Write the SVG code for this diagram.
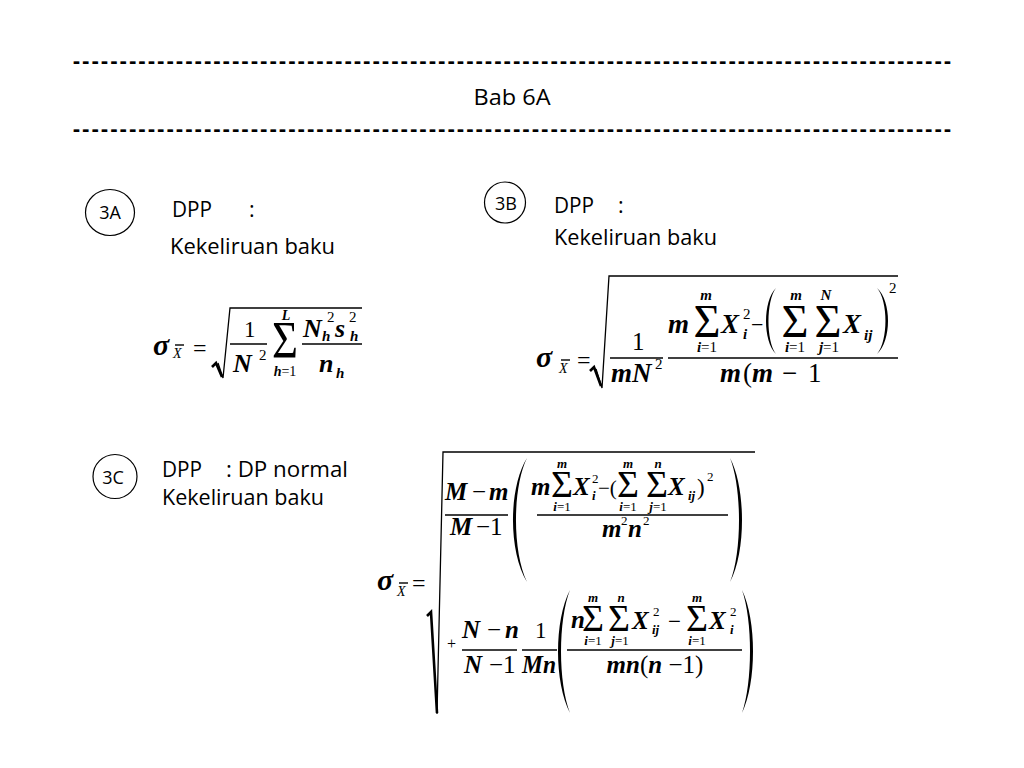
<svg xmlns="http://www.w3.org/2000/svg" width="1024" height="768" viewBox="0 0 1024 768">
<style>
.t{font-family:"Open Sans","Noto Sans","Liberation Sans",sans-serif;font-size:21.5px;fill:#000}
.d{font-family:"Open Sans","Noto Sans","Liberation Sans",sans-serif;font-size:21.5px;font-weight:bold;fill:#000}
.c{font-family:"Open Sans","Noto Sans","Liberation Sans",sans-serif;font-size:18px;fill:#000}
.bi{font-family:"Liberation Serif","Times New Roman",serif;font-weight:bold;font-style:italic;fill:#000}
.it{font-family:"Liberation Serif","Times New Roman",serif;font-style:italic;fill:#000}
.rm{font-family:"Liberation Serif","Times New Roman",serif;font-weight:normal;font-style:normal;fill:#000}
.m{text-anchor:middle}
.bar{stroke:#000;stroke-width:1.4;fill:none}
.rad{stroke:#000;stroke-width:1.3;fill:none;stroke-linejoin:miter}
.radk{stroke:#000;stroke-width:2.6;fill:none}
.par{fill:#000;stroke:none}
.ring{fill:#fff;stroke:#000;stroke-width:1.2}
</style>
<rect width="1024" height="768" fill="#fff"/>

<g id="header">
<text class="d" x="73" y="68" textLength="878" lengthAdjust="spacing">----------------------------------------------------------------------------------------------</text>
<text class="t m" x="512" y="105" textLength="77" lengthAdjust="spacingAndGlyphs">Bab 6A</text>
<text class="d" x="73" y="136" textLength="878" lengthAdjust="spacing">----------------------------------------------------------------------------------------------</text>
</g>

<g id="node-3A">
<ellipse class="ring" cx="110" cy="212.5" rx="24.5" ry="23"/>
<text class="c m" x="110" y="218.5">3A</text>
<text class="t" x="172" y="217" textLength="40" lengthAdjust="spacingAndGlyphs">DPP</text>
<text class="t" x="249" y="217">:</text>
<text class="t" x="170" y="254" textLength="165" lengthAdjust="spacingAndGlyphs">Kekeliruan baku</text>
</g>

<g id="node-3B">
<circle class="ring" cx="505" cy="202.5" r="20.5"/>
<text class="c m" x="506" y="209.5">3B</text>
<text class="t" x="554" y="213" textLength="40" lengthAdjust="spacingAndGlyphs">DPP</text>
<text class="t" x="618" y="213">:</text>
<text class="t" x="554" y="245" textLength="163" lengthAdjust="spacingAndGlyphs">Kekeliruan baku</text>
</g>

<g id="node-3C">
<circle class="ring" cx="115" cy="476.5" r="22"/>
<text class="c m" x="113" y="484">3C</text>
<text class="t" x="162" y="477" textLength="40" lengthAdjust="spacingAndGlyphs">DPP</text>
<text class="t" x="226" y="477" textLength="122" lengthAdjust="spacingAndGlyphs">: DP normal</text>
<text class="t" x="162" y="505" textLength="162" lengthAdjust="spacingAndGlyphs">Kekeliruan baku</text>
</g>

<g id="formula-3A">
<text class="bi" x="153" y="355" font-size="30">σ</text>
<text class="it" x="173" y="358" font-size="14">X</text>
<line class="bar" x1="175" y1="345" x2="184" y2="345" stroke-width="1"/>
<text class="rm" x="193" y="356" font-size="24">=</text>
<path class="rad" d="M218,363 L223,378 L230,308 L362,308"/>
<path class="radk" d="M212,367 L216,363 L222,377"/>
<text class="rm" x="244" y="337" font-size="23">1</text>
<line class="bar" x1="230" y1="344" x2="267" y2="344"/>
<text class="bi" x="233" y="372" font-size="26">N</text>
<text class="rm" x="259" y="360" font-size="15">2</text>
<text class="rm m" transform="translate(285,358) scale(1,1.2)" x="0" y="0" font-size="44" textLength="26" lengthAdjust="spacingAndGlyphs">Σ</text>
<text class="bi m" x="286" y="320" font-size="14">L</text>
<text class="m" x="285" y="376" font-size="14"><tspan class="bi">h</tspan><tspan class="rm">=1</tspan></text>
<text class="bi" x="303" y="337" font-size="26">N</text>
<text class="bi" x="322" y="341" font-size="15">h</text>
<text class="rm" x="327" y="322" font-size="15">2</text>
<text class="bi" x="335" y="337" font-size="26">s</text>
<text class="bi" x="350" y="341" font-size="15">h</text>
<text class="rm" x="349" y="322" font-size="15">2</text>
<line class="bar" x1="302" y1="344" x2="362" y2="344"/>
<text class="bi" x="319" y="372" font-size="26">n</text>
<text class="bi" x="336" y="378" font-size="15">h</text>
</g>

<g id="formula-3B">
<text class="bi" x="536" y="367" font-size="30">σ</text>
<text class="it" x="559" y="373" font-size="14">X</text>
<line class="bar" x1="561" y1="360" x2="570" y2="360" stroke-width="1"/>
<text class="rm" x="577" y="368" font-size="24">=</text>
<path class="rad" d="M596,369 L602,388 L609,276 L898,276"/>
<path class="radk" d="M590,371 L594,367 L601,386"/>
<text class="rm" x="632" y="350" font-size="25">1</text>
<line class="bar" x1="610" y1="358" x2="663" y2="358"/>
<text class="bi" x="611" y="382" font-size="27">mN</text>
<text class="rm" x="655" y="369" font-size="15">2</text>
<line class="bar" x1="668" y1="358" x2="898" y2="358"/>
<text class="bi" x="668" y="333" font-size="27">m</text>
<text class="rm m" transform="translate(707,337) scale(1,1.15)" x="0" y="0" font-size="41" textLength="27" lengthAdjust="spacingAndGlyphs">Σ</text>
<text class="bi m" x="706" y="300" font-size="15">m</text>
<text class="m" x="707" y="352" font-size="15"><tspan class="bi">i</tspan><tspan class="rm">=1</tspan></text>
<text class="bi" x="721" y="333" font-size="27">X</text>
<text class="rm" x="743" y="319" font-size="15">2</text>
<text class="bi" x="743" y="339" font-size="15">i</text>
<text class="rm" x="751" y="332" font-size="22">−</text>
<path class="par" d="M776,288 C762.7,301 762.7,341 776,354 C766,341 766,301 776,288 Z"/>
<text class="rm m" transform="translate(795,337) scale(1,1.15)" x="0" y="0" font-size="41" textLength="27" lengthAdjust="spacingAndGlyphs">Σ</text>
<text class="bi m" x="796" y="300" font-size="15">m</text>
<text class="m" x="795" y="352" font-size="15"><tspan class="bi">i</tspan><tspan class="rm">=1</tspan></text>
<text class="rm m" transform="translate(828,337) scale(1,1.15)" x="0" y="0" font-size="41" textLength="27" lengthAdjust="spacingAndGlyphs">Σ</text>
<text class="bi m" x="826" y="300" font-size="15">N</text>
<text class="m" x="829" y="352" font-size="15"><tspan class="bi">j</tspan><tspan class="rm">=1</tspan></text>
<text class="bi" x="843" y="333" font-size="27">X</text>
<text class="bi" x="864" y="340" font-size="15">ij</text>
<path class="par" d="M877,288 C891.7,301 891.7,341 877,354 C888.3,341 888.3,301 877,288 Z"/>
<text class="rm" x="889" y="293" font-size="15">2</text>
<text x="720" y="382" font-size="27"><tspan class="bi">m</tspan><tspan class="rm" x="743">(</tspan><tspan class="bi" x="752">m</tspan><tspan class="rm" x="782">−</tspan><tspan class="rm" x="808">1</tspan></text>
</g>

<g id="formula-3C">
<text class="bi" x="377" y="590" font-size="30">σ</text>
<text class="it" x="397" y="596" font-size="14">X</text>
<line class="bar" x1="399" y1="583" x2="408" y2="583" stroke-width="1"/>
<text class="rm" x="412" y="591" font-size="24">=</text>
<path class="rad" d="M437,714 L443,452 L755,452"/>
<path class="radk" d="M427,616 L431,612 L437,713"/>

<text x="445" y="500" font-size="25"><tspan class="bi">M</tspan><tspan class="rm" x="472">−</tspan><tspan class="bi" x="489">m</tspan></text>
<line class="bar" x1="445" y1="515" x2="508" y2="515"/>
<text x="450" y="535" font-size="25"><tspan class="bi">M</tspan><tspan class="rm" x="476">−1</tspan></text>
<path class="par" d="M527,458 C508.3,488 508.3,552 527,582 C512.3,552 512.3,488 527,458 Z"/>
<text class="bi" x="531" y="495" font-size="25">m</text>
<text class="rm m" transform="translate(562,497) scale(1,1.08)" x="0" y="0" font-size="36" textLength="22" lengthAdjust="spacingAndGlyphs">Σ</text>
<text class="bi m" x="562" y="468" font-size="13">m</text>
<text class="m" x="562" y="511" font-size="13"><tspan class="bi">i</tspan><tspan class="rm">=1</tspan></text>
<text class="bi" x="573" y="495" font-size="25">X</text>
<text class="rm" x="592" y="483" font-size="13">2</text>
<text class="bi" x="592" y="500" font-size="13">i</text>
<text class="rm" x="598" y="495" font-size="21">−(</text>
<text class="rm m" transform="translate(628,497) scale(1,1.08)" x="0" y="0" font-size="36" textLength="22" lengthAdjust="spacingAndGlyphs">Σ</text>
<text class="bi m" x="628" y="468" font-size="13">m</text>
<text class="m" x="628" y="511" font-size="13"><tspan class="bi">i</tspan><tspan class="rm">=1</tspan></text>
<text class="rm m" transform="translate(657,497) scale(1,1.08)" x="0" y="0" font-size="36" textLength="22" lengthAdjust="spacingAndGlyphs">Σ</text>
<text class="bi m" x="658" y="468" font-size="13">n</text>
<text class="m" x="658" y="511" font-size="13"><tspan class="bi">j</tspan><tspan class="rm">=1</tspan></text>
<text class="bi" x="668" y="495" font-size="25">X</text>
<text class="bi" x="688" y="500" font-size="13">ij</text>
<text class="rm" x="697" y="495" font-size="23">)</text>
<text class="rm" x="707" y="481" font-size="13">2</text>
<line class="bar" x1="537" y1="515" x2="728" y2="515"/>
<text class="bi" x="602" y="537" font-size="25">m</text>
<text class="rm" x="621" y="525" font-size="13">2</text>
<text class="bi" x="628" y="537" font-size="25">n</text>
<text class="rm" x="643" y="525" font-size="13">2</text>
<path class="par" d="M730,458 C746,488 746,552 730,582 C742,552 742,488 730,458 Z"/>

<text class="rm" x="447" y="649" font-size="16">+</text>
<text x="462" y="638" font-size="25"><tspan class="bi">N</tspan><tspan class="rm" x="487">−</tspan><tspan class="bi" x="505">n</tspan></text>
<line class="bar" x1="462" y1="650" x2="517" y2="650"/>
<text x="464" y="673" font-size="25"><tspan class="bi">N</tspan><tspan class="rm" x="489">−1</tspan></text>
<text class="rm" x="535" y="638" font-size="23">1</text>
<line class="bar" x1="522" y1="650" x2="557" y2="650"/>
<text class="bi" x="522" y="673" font-size="25" textLength="34" lengthAdjust="spacingAndGlyphs">Mn</text>
<path class="par" d="M570,590 C554,620 554,683 570,713 C558,683 558,620 570,590 Z"/>
<text class="bi" x="571" y="628" font-size="25">n</text>
<text class="rm m" transform="translate(593,631) scale(1,1.08)" x="0" y="0" font-size="36" textLength="22" lengthAdjust="spacingAndGlyphs">Σ</text>
<text class="bi m" x="593" y="602" font-size="13">m</text>
<text class="m" x="593" y="645" font-size="13"><tspan class="bi">i</tspan><tspan class="rm">=1</tspan></text>
<text class="rm m" transform="translate(619,631) scale(1,1.08)" x="0" y="0" font-size="36" textLength="22" lengthAdjust="spacingAndGlyphs">Σ</text>
<text class="bi m" x="621" y="602" font-size="13">n</text>
<text class="m" x="620" y="645" font-size="13"><tspan class="bi">j</tspan><tspan class="rm">=1</tspan></text>
<text class="bi" x="632" y="629" font-size="25">X</text>
<text class="rm" x="653" y="616" font-size="13">2</text>
<text class="bi" x="652" y="634" font-size="13">ij</text>
<text class="rm" x="668" y="629" font-size="23">−</text>
<text class="rm m" transform="translate(697,631) scale(1,1.08)" x="0" y="0" font-size="36" textLength="22" lengthAdjust="spacingAndGlyphs">Σ</text>
<text class="bi m" x="697" y="602" font-size="13">m</text>
<text class="m" x="697" y="645" font-size="13"><tspan class="bi">i</tspan><tspan class="rm">=1</tspan></text>
<text class="bi" x="709" y="629" font-size="25">X</text>
<text class="rm" x="730" y="616" font-size="13">2</text>
<text class="bi" x="730" y="634" font-size="13">i</text>
<line class="bar" x1="567" y1="650" x2="742" y2="650"/>
<text class="m" x="655" y="673" font-size="25"><tspan class="bi">mn</tspan><tspan class="rm">(</tspan><tspan class="bi">n</tspan><tspan class="rm"> −1)</tspan></text>
<path class="par" d="M742,590 C756.7,620 756.7,683 742,713 C752.7,683 752.7,620 742,590 Z"/>
</g>
</svg>
